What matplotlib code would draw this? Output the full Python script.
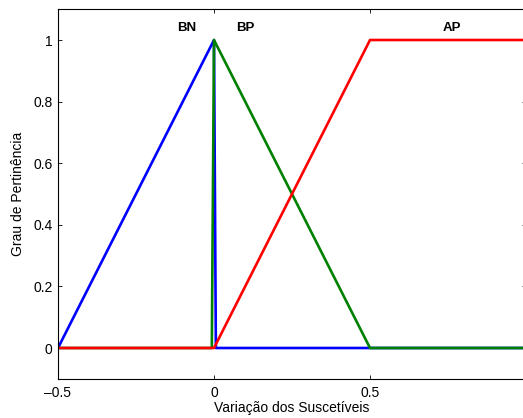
import matplotlib
matplotlib.use('Agg')
import matplotlib.pyplot as plt

plt.rcParams['font.family'] = ['Liberation Sans', 'DejaVu Sans']

# funções de pertinência (pontos dos trapézios/triângulos)
bn_x = [-0.5, 0.0, 0.006, 1.0]
bn_y = [0, 1, 0, 0]
bp_x = [-0.5, -0.007, 0.0, 0.5, 1.0]
bp_y = [0, 0, 1, 0, 0]
ap_x = [-0.5, 0.0, 0.5, 1.0]
ap_y = [0, 0, 1, 1]

labels = ['BN', 'BP', 'AP']
label_x = [-0.087, 0.1, 0.763]
label_y = [1.04, 1.04, 1.04]

xticks = [-0.5, 0, 0.5]
xticklabels = ['\u20130.5', '0', '0.5']
yticks = [0, 0.2, 0.4, 0.6, 0.8, 1]
yticklabels = ['0', '0.2', '0.4', '0.6', '0.8', '1']

fig = plt.figure(figsize=(5.23, 4.18), dpi=100)
ax = fig.add_axes([58 / 523, 1 - 378.8 / 418, (526 - 58) / 523, (378.8 - 9.2) / 418])

ax.plot(bn_x, bn_y, color='#0000ff', lw=1.9)
ax.plot(bp_x, bp_y, color='#008000', lw=1.9)
ax.plot(ap_x, ap_y, color='#ff0000', lw=1.9)

for t, lx, ly in zip(labels, label_x, label_y):
    ax.text(lx, ly, t, ha='center', va='center', fontsize=9.5, fontweight='bold')

ax.set_xlim(-0.5, 1.0)
ax.set_ylim(-0.1, 1.1)
ax.set_xticks(xticks)
ax.set_xticklabels(xticklabels)
ax.set_yticks(yticks)
ax.set_yticklabels(yticklabels)
ax.tick_params(direction='in', top=True, right=True, labelsize=10, length=3, width=0.6)
ax.tick_params(axis='x', pad=5)
ax.tick_params(axis='y', pad=4)
for s in ax.spines.values():
    s.set_linewidth(0.8)

ax.set_xlabel('Variação dos Suscetíveis', fontsize=10, labelpad=1)
ax.set_ylabel('Grau de Pertinência', fontsize=10, labelpad=6)

fig.savefig('out.png', dpi=100)
